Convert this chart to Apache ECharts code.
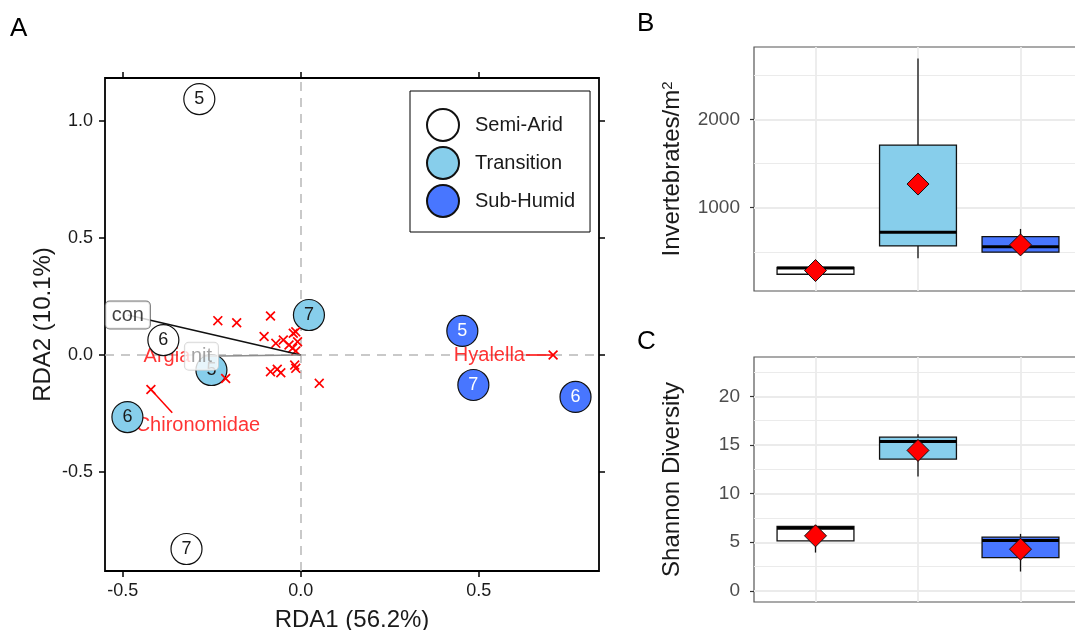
<!DOCTYPE html>
<html>
<head>
<meta charset="utf-8">
<script src="https://cdn.jsdelivr.net/npm/echarts@6/dist/echarts.min.js"></script>
<style>html,body{margin:0;background:#fff}#chart{width:1075px;height:630px}</style>
</head>
<body>
<div id="chart"></div>
<script>
// ---- panel A: RDA ordination ----
const zoneNames = ['Semi-Arid', 'Transition', 'Sub-Humid'];
const zoneFill = ['#ffffff', '#87ceeb', '#4876ff'];
const zoneText = ['#1a1a1a', '#1a1a1a', '#ffffff'];
// [RDA1, RDA2, site label]
const semiAridSites = [[-0.285, 1.094, '5'], [-0.386, 0.064, '6'], [-0.321, -0.829, '7']];
const transitionSites = [[0.023, 0.171, '7'], [-0.487, -0.265, '6'], [-0.251, -0.064, '5']];
const subHumidSites = [[0.454, 0.103, '5'], [0.485, -0.128, '7'], [0.772, -0.179, '6']];
const speciesScores = [
  [-0.233, 0.147], [-0.180, 0.138], [-0.085, 0.167], [-0.103, 0.079], [-0.070, 0.050],
  [-0.049, 0.064], [-0.021, 0.093], [-0.014, 0.099], [-0.009, 0.057], [-0.033, 0.043],
  [-0.023, 0.029], [-0.014, 0.017], [-0.085, -0.071], [-0.066, -0.061], [-0.056, -0.076],
  [-0.017, -0.043], [-0.014, -0.057], [0.052, -0.121], [-0.211, -0.100],
  [-0.421, -0.147], [0.709, 0.0]
];
const speciesLabels = [['Hyalella', 0.530, 0.0], ['Chironomidae', -0.289, -0.299], ['Argia', -0.376, -0.007]];
const speciesSegments = [[0.709, 0.0, 0.633, 0.0], [-0.421, -0.147, -0.361, -0.247]];
const envVectors = [['con', -0.486, 0.171], ['nit', -0.279, -0.005]];
const envSignificant = [true, false];
const rdaXRange = [-0.550, 0.838];
const rdaYRange = [-0.923, 1.184];
const rdaXTicks = [-0.5, 0, 0.5];
const rdaYTicks = [-0.5, 0, 0.5, 1.0];

// ---- panel B: invertebrate density ----
// [min, q1, median, q3, max]
const densityStats = [[181, 245, 315, 322, 340], [427, 566, 721, 1710, 2692], [470, 495, 558, 672, 759]];
const densityMeans = [287, 1268, 578];
const densityRange = [55, 2822];
const densityTicks = [1000, 2000];
const densityMinor = [500, 1500, 2500];

// ---- panel C: Shannon diversity ----
const diversityStats = [[3.94, 5.14, 6.45, 6.62, 6.8], [11.76, 13.55, 15.36, 15.8, 16.1], [1.99, 3.43, 5.18, 5.52, 5.86]];
const diversityMeans = [5.66, 14.44, 4.29];
const diversityRange = [-1.14, 24.04];
const diversityTicks = [0, 5, 10, 15, 20];
const diversityMinor = [2.5, 7.5, 12.5, 17.5, 22.5];

const FONT = '"Liberation Sans", Arial, sans-serif';
const chart = echarts.init(document.getElementById('chart'));

const xPath = 'path://M0,1.2 L1.2,0 L5,3.8 L8.8,0 L10,1.2 L6.2,5 L10,8.8 L8.8,10 L5,6.2 L1.2,10 L0,8.8 L3.8,5 Z';

function siteSeries(i, data) {
  return {
    name: zoneNames[i], type: 'scatter', xAxisIndex: 0, yAxisIndex: 0, z: 3,
    symbol: 'circle', symbolSize: 31, data: data,
    itemStyle: { color: zoneFill[i], borderColor: '#111', borderWidth: 1.2, opacity: 1 },
    label: { show: true, position: 'inside', formatter: p => p.value[2], fontSize: 18, color: zoneText[i], fontFamily: FONT }
  };
}

function gridMarks(minor, major) {
  const lines = [];
  minor.forEach(v => lines.push({ yAxis: v, lineStyle: { width: 1 } }));
  major.forEach(v => lines.push({ yAxis: v, lineStyle: { width: 1.8 } }));
  [1, 2, 3].forEach(v => lines.push({ xAxis: v, lineStyle: { width: 1.8 } }));
  return { silent: true, symbol: 'none', z: 1, label: { show: false }, lineStyle: { color: '#ebebeb', type: 'solid' }, data: lines };
}

function boxSeries(axisIdx, stats, minor, major) {
  return {
    type: 'custom', xAxisIndex: axisIdx, yAxisIndex: axisIdx, z: 2,
    data: stats.map((s, i) => [i + 1].concat(s)),
    encode: { x: 0, y: [1, 2, 3, 4, 5] },
    markLine: gridMarks(minor, major),
    renderItem: (params, api) => {
      const x = api.value(0);
      const lo = api.coord([x, api.value(1)]);
      const q1 = api.coord([x, api.value(2)]);
      const med = api.coord([x, api.value(3)]);
      const q3 = api.coord([x, api.value(4)]);
      const hi = api.coord([x, api.value(5)]);
      const hw = api.size([0.75, 0])[0] / 2;
      const stroke = { stroke: '#111', lineWidth: 1.3 };
      return {
        type: 'group',
        children: [
          { type: 'line', shape: { x1: lo[0], y1: lo[1], x2: q1[0], y2: q1[1] }, style: stroke },
          { type: 'line', shape: { x1: q3[0], y1: q3[1], x2: hi[0], y2: hi[1] }, style: stroke },
          { type: 'rect', shape: { x: q1[0] - hw, y: q3[1], width: hw * 2, height: q1[1] - q3[1] },
            style: { fill: zoneFill[params.dataIndex], stroke: '#111', lineWidth: 1.3 } },
          { type: 'line', shape: { x1: med[0] - hw, y1: med[1], x2: med[0] + hw, y2: med[1] },
            style: { stroke: '#000', lineWidth: 3 } }
        ]
      };
    }
  };
}

function meanSeries(axisIdx, means) {
  return {
    type: 'scatter', xAxisIndex: axisIdx, yAxisIndex: axisIdx, z: 4,
    symbol: 'diamond', symbolSize: 22,
    data: means.map((m, i) => [i + 1, m]),
    itemStyle: { color: '#ff0000', borderColor: '#111', borderWidth: 1, opacity: 1 }
  };
}

const catAxis = (grid) => ({ gridIndex: grid, type: 'value', min: 0.4, max: 3.6, show: false });
const boxYAxis = (grid, range, ticks, name) => ({
  gridIndex: grid, type: 'value', min: range[0], max: range[1],
  name: name, nameLocation: 'middle', nameGap: 70,
  nameTextStyle: { fontSize: 24, color: '#1a1a1a', fontFamily: FONT,
    rich: { sup: { fontSize: 15, verticalAlign: 'top', color: '#1a1a1a', fontFamily: FONT } } },
  axisLine: { show: false, onZero: false },
  axisTick: { show: true, customValues: ticks, length: 4, lineStyle: { color: '#333', width: 1.2 } },
  axisLabel: { customValues: ticks, formatter: v => String(v), fontSize: 19, color: '#4d4d4d', margin: 14, fontFamily: FONT },
  splitLine: { show: false }
});

const rdaTickStyle = { show: true, length: 6, lineStyle: { color: '#000', width: 1.5 } };
const noLine = { show: false, onZero: false };

const option = {
  animation: false,
  backgroundColor: '#fff',
  textStyle: { fontFamily: FONT },
  graphic: [
    { type: 'text', left: 10, top: 16, style: { text: 'A', font: '26px ' + FONT, fill: '#000' } },
    { type: 'text', left: 637, top: 11, style: { text: 'B', font: '26px ' + FONT, fill: '#000' } },
    { type: 'text', left: 637, top: 329, style: { text: 'C', font: '26px ' + FONT, fill: '#000' } }
  ],
  legend: {
    data: zoneNames, orient: 'vertical', left: 410, top: 91,
    padding: [17, 15, 14, 16], itemGap: 4, itemWidth: 54, itemHeight: 32,
    icon: 'circle', symbolKeepAspect: true,
    borderColor: '#000', borderWidth: 1, backgroundColor: '#fff',
    textStyle: { fontSize: 20, color: '#1a1a1a', fontFamily: FONT }
  },
  grid: [
    { left: 105, top: 78, width: 494, height: 493, show: true, borderColor: '#000', borderWidth: 1.8, backgroundColor: '#fff', outerBoundsMode: 'none' },
    { left: 754, top: 47, width: 328, height: 244, show: true, borderColor: '#555', borderWidth: 1.2, backgroundColor: '#fff', outerBoundsMode: 'none' },
    { left: 754, top: 357, width: 328, height: 245, show: true, borderColor: '#555', borderWidth: 1.2, backgroundColor: '#fff', outerBoundsMode: 'none' }
  ],
  xAxis: [
    { gridIndex: 0, type: 'value', min: rdaXRange[0], max: rdaXRange[1], position: 'bottom',
      name: 'RDA1 (56.2%)', nameLocation: 'middle', nameGap: 37,
      nameTextStyle: { fontSize: 24, color: '#1a1a1a', fontFamily: FONT },
      axisLine: noLine, axisTick: Object.assign({ customValues: rdaXTicks }, rdaTickStyle),
      axisLabel: { customValues: rdaXTicks, formatter: v => v.toFixed(1), fontSize: 18, color: '#1a1a1a', margin: 11 },
      splitLine: { show: false } },
    { gridIndex: 0, type: 'value', min: rdaXRange[0], max: rdaXRange[1], position: 'top',
      axisLine: noLine, axisTick: Object.assign({ customValues: rdaXTicks }, rdaTickStyle),
      axisLabel: { show: false }, splitLine: { show: false } },
    catAxis(1),
    catAxis(2)
  ],
  yAxis: [
    { gridIndex: 0, type: 'value', min: rdaYRange[0], max: rdaYRange[1], position: 'left',
      name: 'RDA2 (10.1%)', nameLocation: 'middle', nameGap: 50,
      nameTextStyle: { fontSize: 24, color: '#1a1a1a', fontFamily: FONT },
      axisLine: noLine, axisTick: Object.assign({ customValues: rdaYTicks }, rdaTickStyle),
      axisLabel: { customValues: rdaYTicks, formatter: v => v.toFixed(1), fontSize: 18, color: '#1a1a1a', margin: 12 },
      splitLine: { show: false } },
    { gridIndex: 0, type: 'value', min: rdaYRange[0], max: rdaYRange[1], position: 'right',
      axisLine: noLine, axisTick: Object.assign({ customValues: rdaYTicks }, rdaTickStyle),
      axisLabel: { show: false }, splitLine: { show: false } },
    boxYAxis(1, densityRange, densityTicks, 'Invertebrates/m{sup|2}'),
    boxYAxis(2, diversityRange, diversityTicks, 'Shannon Diversity')
  ],
  series: [
    // species name labels (under the site circles)
    {
      type: 'scatter', xAxisIndex: 0, yAxisIndex: 0, z: 1, symbolSize: 1,
      itemStyle: { color: 'rgba(0,0,0,0)' },
      data: speciesLabels.map(l => [l[1], l[2], l[0]]),
      label: { show: true, position: 'inside', formatter: p => p.value[2], fontSize: 20, color: '#ff0000', fontFamily: FONT },
      markLine: {
        silent: true, symbol: 'none', z: 1, label: { show: false },
        lineStyle: { color: '#b8b8b8', width: 1.5, type: [9, 7] },
        data: [{ xAxis: 0 }, { yAxis: 0 }]
      }
    },
    ...speciesSegments.map(s => ({
      type: 'line', xAxisIndex: 0, yAxisIndex: 0, z: 1, showSymbol: false, silent: true,
      data: [[s[0], s[1]], [s[2], s[3]]], lineStyle: { color: '#ff0000', width: 1.5 }
    })),
    siteSeries(0, semiAridSites),
    siteSeries(1, transitionSites),
    siteSeries(2, subHumidSites),
    {
      type: 'scatter', xAxisIndex: 0, yAxisIndex: 0, z: 4, symbol: xPath, symbolSize: 10,
      itemStyle: { color: '#ff0000', opacity: 1 }, data: speciesScores
    },
    ...envVectors.map((v, i) => ({
      type: 'line', xAxisIndex: 0, yAxisIndex: 0, z: 5, showSymbol: false, silent: true,
      data: [[0, 0], [v[1], v[2]]],
      lineStyle: { color: envSignificant[i] ? '#111' : '#8c8c8c', width: 1.5 }
    })),
    {
      type: 'scatter', xAxisIndex: 0, yAxisIndex: 0, z: 6, symbolSize: 1,
      itemStyle: { color: 'rgba(0,0,0,0)' },
      data: envVectors.map((v, i) => ({
        value: [v[1], v[2], v[0]],
        label: {
          color: envSignificant[i] ? '#111' : '#8c8c8c',
          borderColor: envSignificant[i] ? '#555' : '#cfcfcf'
        }
      })),
      label: {
        show: true, position: 'inside', formatter: p => p.value[2], fontSize: 20, fontFamily: FONT,
        backgroundColor: '#fff', borderWidth: 1, borderRadius: 4, padding: [4, 6, 3, 6]
      }
    },
    boxSeries(2, densityStats, densityMinor, densityTicks),
    meanSeries(2, densityMeans),
    boxSeries(3, diversityStats, diversityMinor, diversityTicks),
    meanSeries(3, diversityMeans)
  ]
};

chart.setOption(option);
</script>
</body>
</html>
